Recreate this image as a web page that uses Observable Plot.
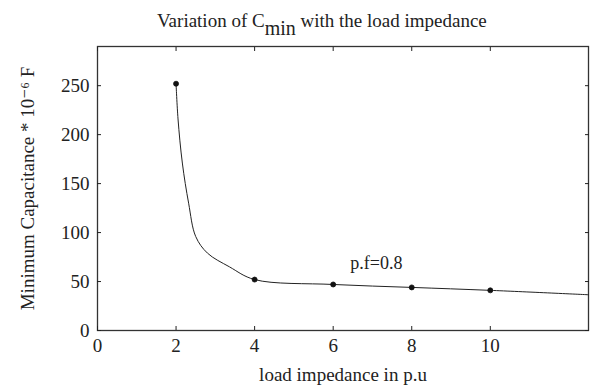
<!DOCTYPE html>
<html><head><meta charset="utf-8">
<script src="https://cdn.jsdelivr.net/npm/d3@7"></script>
<script src="https://cdn.jsdelivr.net/npm/@observablehq/plot@0.6"></script>
<style>
body{margin:0;background:#fff;font-family:"Liberation Serif","Times New Roman",Times,"DejaVu Serif",serif;}
#title{position:relative;height:36px;width:591px;font-size:19px;color:#222;}
#title span{position:absolute;left:157px;top:10px;white-space:nowrap;}
#title sub{font-size:20px;vertical-align:-8px;line-height:0;}
svg text{font-family:"Liberation Serif","Times New Roman",Times,"DejaVu Serif",serif;}
</style></head><body>
<div id="title"><span>Variation of C<sub>min</sub> with the load impedance</span></div>
<div id="chart"></div>
<script>
// data points (markers)
const impedance = [2, 4, 6, 8, 10];
const cmin = [252, 52, 47, 44, 41];
// fitted curve
const curveX = [2, 2.05, 2.16, 2.32, 2.5, 2.8, 3.36, 4, 6, 8, 10, 12.5];
const curveY = [252, 216, 171, 130, 96, 79, 65, 52, 47, 44, 41, 36.5];
const xTicks = [0, 2, 4, 6, 8, 10];
const yTicks = [0, 50, 100, 150, 200, 250];
const annText = ["p.f=0.8"];
const annX = [7.1];
const annY = [69];

const points = impedance.map((x, i) => ({x, y: cmin[i]}));
const curve = curveX.map((x, i) => ({x, y: curveY[i]}));
const ann = annText.map((t, i) => ({t, x: annX[i], y: annY[i]}));

const chart = Plot.plot({
  width: 591,
  height: 349,
  marginLeft: 97,
  marginRight: 3,
  marginTop: 10,
  marginBottom: 55,
  style: {fontFamily: "'Liberation Serif', 'Times New Roman', serif", fontSize: "19px", color: "#222", background: "#fff"},
  x: {domain: [0, 12.5]},
  y: {domain: [0, 290]},
  marks: [
    Plot.frame({stroke: "#333", strokeWidth: 1.3}),
    Plot.axisX({anchor: "bottom", ticks: xTicks, tickSize: -4, tickPadding: 12, fontSize: 19, label: "load impedance in p.u", labelAnchor: "center", labelOffset: 50, labelArrow: false}),
    Plot.axisX({anchor: "top", ticks: xTicks, tickSize: -4, tickFormat: () => "", label: null}),
    Plot.axisY({anchor: "left", ticks: yTicks, tickSize: -4, tickPadding: 12, fontSize: 19, label: "Minimum Capacitance * 10⁻⁶ F", labelAnchor: "center", labelOffset: 77, labelArrow: false}),
    Plot.axisY({anchor: "right", ticks: yTicks, tickSize: -4, tickFormat: () => "", label: null}),
    Plot.line(curve, {x: "x", y: "y", curve: "catmull-rom", stroke: "#222", strokeWidth: 1}),
    Plot.dot(points, {x: "x", y: "y", r: 2.5, fill: "#111", stroke: "#111", strokeWidth: 0.8}),
    Plot.text(ann, {x: "x", y: "y", text: "t", fontSize: 18, fill: "#222"})
  ]
});
document.getElementById("chart").appendChild(chart);
</script>
</body></html>
